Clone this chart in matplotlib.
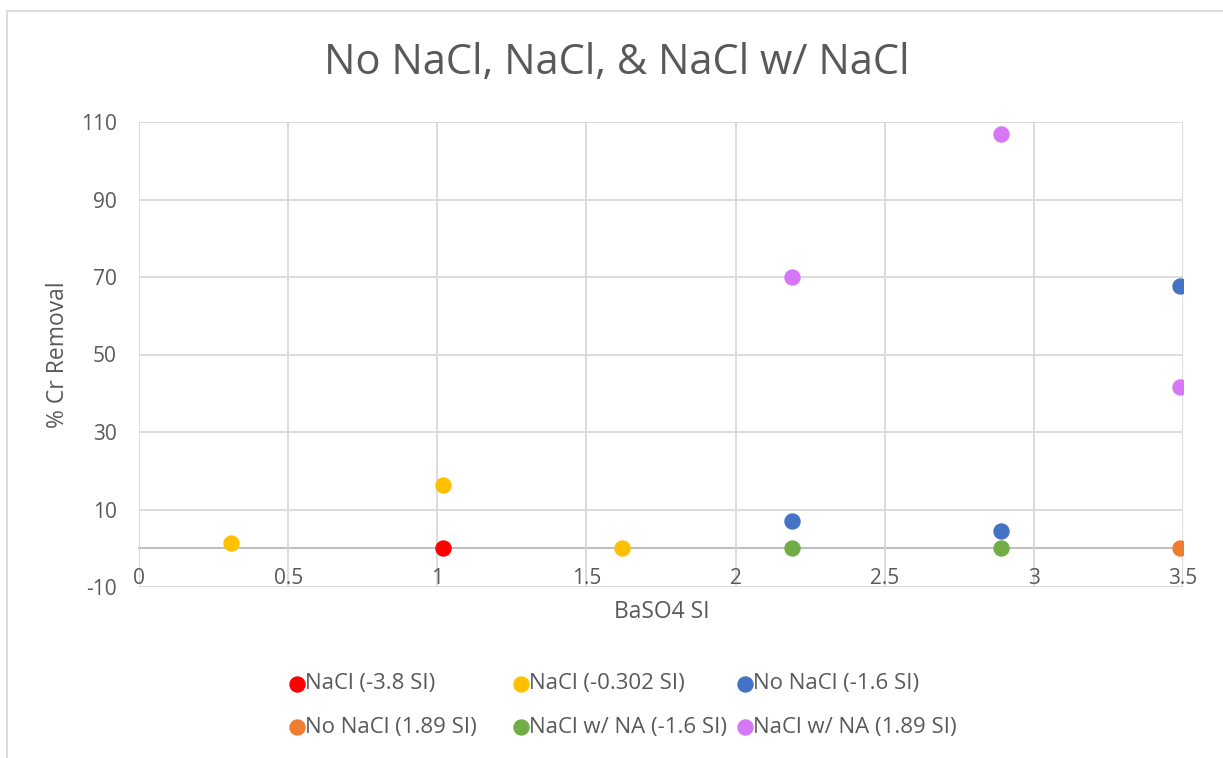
import matplotlib.pyplot as plt
from matplotlib.lines import Line2D
from matplotlib.patches import Rectangle

plt.rcParams['font.family'] = ['Open Sans', 'DejaVu Sans']
plt.rcParams['axes.unicode_minus'] = False

# series data (BaSO4 SI vs % Cr removal)
labels = ['NaCl (-3.8 SI)', 'NaCl (-0.302 SI)', 'No NaCl (-1.6 SI)',
          'No NaCl (1.89 SI)', 'NaCl w/ NA (-1.6 SI)', 'NaCl w/ NA (1.89 SI)']
colors = ['#ff0000', '#ffc000', '#4472c4', '#ed7d31', '#70ad47', '#d677f7']

x_nacl_38 = [1.02]
y_nacl_38 = [0]
x_nacl_0302 = [0.31, 1.02, 1.62]
y_nacl_0302 = [1.4, 16.2, 0]
x_nonacl_16 = [2.19, 2.89, 3.49]
y_nonacl_16 = [7.0, 4.4, 67.8]
x_nonacl_189 = [3.49]
y_nonacl_189 = [0]
x_na_16 = [2.19, 2.89]
y_na_16 = [0, 0]
x_na_189 = [2.19, 2.89, 3.49]
y_na_189 = [69.9, 107.0, 41.5]

xs = [x_nacl_38, x_nacl_0302, x_nonacl_16, x_nonacl_189, x_na_16, x_na_189]
ys = [y_nacl_38, y_nacl_0302, y_nonacl_16, y_nonacl_189, y_na_16, y_na_189]

x_ticks = [0, 0.5, 1, 1.5, 2, 2.5, 3, 3.5]
y_ticks = [-10, 10, 30, 50, 70, 90, 110]

txt = '#595959'
grid = '#d9d9d9'

fig = plt.figure(figsize=(12.23, 7.58), dpi=100)
W, H = 1223, 758

# chart frame
fig.add_artist(Rectangle((7 / W, -0.1), 1.1, (758 - 11) / H + 0.1, transform=fig.transFigure,
                         fill=False, edgecolor='#d9d9d9', linewidth=1.3))

ax = fig.add_axes([139 / W, (H - 587) / H, (1183 - 139) / W, (587 - 122) / H])
ax.set_xlim(0, 3.5)
ax.set_ylim(-10, 110)
ax.set_xticks(x_ticks)
ax.set_xticklabels(['0', '0.5', '1', '1.5', '2', '2.5', '3', '3.5'])
ax.set_yticks(y_ticks)
ax.grid(True, color=grid, linewidth=1.3)
ax.set_axisbelow(True)

for s in ['top', 'right', 'left']:
    ax.spines[s].set_visible(False)
ax.spines['bottom'].set_position(('data', 0))
ax.spines['bottom'].set_color('#bfbfbf')
ax.spines['bottom'].set_linewidth(1.5)
ax.spines['bottom'].set_zorder(0.5)
ax.tick_params(axis='both', length=0, labelsize=15, labelcolor=txt)
ax.tick_params(axis='x', pad=14)
ax.tick_params(axis='y', pad=16)

for x, y, c in zip(xs, ys, colors):
    ax.plot(x, y, 'o', color=c, markersize=10.8, linestyle='none', zorder=3)

fig.text(617 / W, 1 - 63 / H, 'No NaCl, NaCl, & NaCl w/ NaCl', ha='center', va='center',
         fontsize=30, color=txt)
fig.text(58 / W, 1 - 355 / H, '% Cr Removal', rotation=90, ha='center', va='center',
         fontsize=16.5, color=txt)
fig.text(662 / W, 1 - 612 / H, 'BaSO4 SI', ha='center', va='center', fontsize=16.5, color=txt)

# legend entries laid out in a 3 x 2 grid
col_x = [297, 521, 745]
row_y = [684, 727]
for i, (lab, c) in enumerate(zip(labels, colors)):
    mx = col_x[i % 3]
    my = row_y[i // 3]
    fig.add_artist(Line2D([mx / W], [1 - my / H], marker='o', color=c, markersize=10.8,
                          linestyle='none', transform=fig.transFigure))
    fig.text((mx + 8) / W, 1 - my / H, lab, ha='left', va='center', fontsize=16, color=txt)

fig.savefig('out.png', dpi=100)
